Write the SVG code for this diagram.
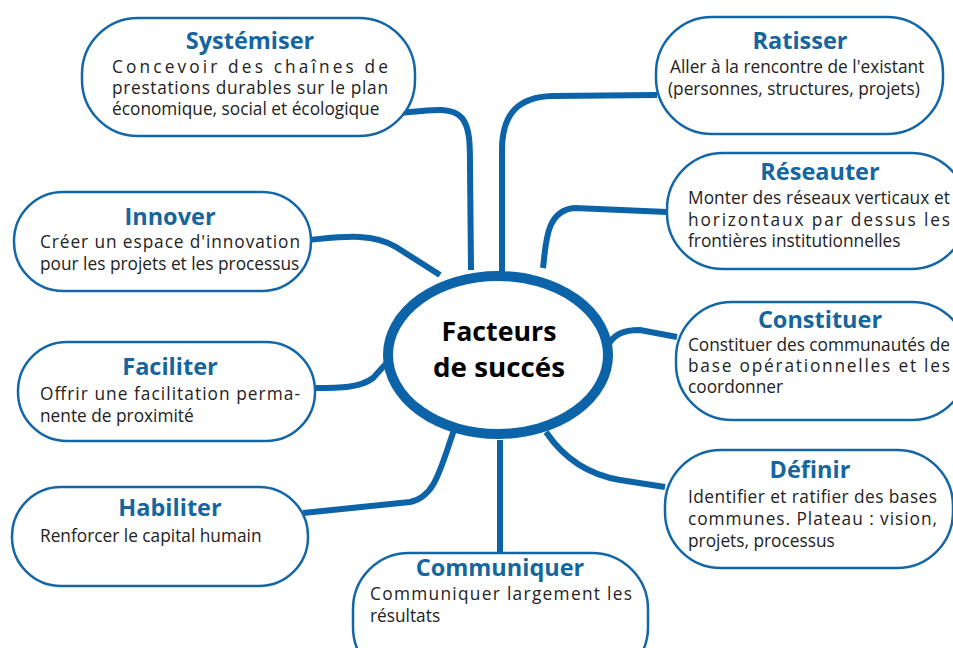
<svg xmlns="http://www.w3.org/2000/svg" width="953" height="648" viewBox="0 0 953 648">
<style>
.box{fill:#fff;stroke:#1467a7;stroke-width:2.5}
.t{font-family:"Open Sans","Noto Sans",sans-serif;font-weight:bold;font-size:23.5px;fill:#15659f;text-anchor:middle}
.b{font-family:"Open Sans","Noto Sans",sans-serif;font-size:17.3px;fill:#222}
.c{fill:none;stroke:#0c63a8;stroke-width:6;stroke-linecap:butt}
.ct{font-family:"Open Sans","Noto Sans",sans-serif;font-weight:bold;font-size:27px;fill:#000;text-anchor:middle}
</style>
<rect width="953" height="648" fill="#fff"/>
<g id="connectors">
<path class="c" d="M400,113 C430,110 452,106 462,118 C470,128 470,145 470,165 L471,270"/>
<path class="c" d="M502,272 L502,150 C502,112 520,97 552,96 L657,95"/>
<path class="c" d="M543,268 C546,245 545,210 575,208 L667,212"/>
<path class="c" d="M308,240 C340,237 372,232 396,247 L440,275"/>
<path class="c" d="M313,388 C340,388 360,388 373,378 L393,356"/>
<path class="c" d="M608,345 C614,335 622,330 640,330 L677,337"/>
<path class="c" d="M546,432 C565,460 590,475 620,480 L665,487"/>
<path class="c" d="M500,440 L500,553"/>
<path class="c" d="M454,430 C440,470 435,497 410,502 L303,513"/>
</g>
<g id="center">
<ellipse cx="498" cy="355" rx="110" ry="79" fill="#fff" stroke="#0c63a8" stroke-width="10"/>
<text class="ct" x="499" y="341" textLength="115" lengthAdjust="spacingAndGlyphs">Facteurs</text>
<text class="ct" x="499" y="377" textLength="132" lengthAdjust="spacingAndGlyphs">de succés</text>
</g>
<g id="systemiser">
<rect class="box" x="82" y="18" width="333" height="118" rx="56" ry="56"/>
<text class="t" x="250" y="49">Systémiser</text>
<text class="b" x="112" y="73" textLength="276" lengthAdjust="spacing">Concevoir des chaînes de</text>
<text class="b" x="112" y="94" textLength="276" lengthAdjust="spacing">prestations durables sur le plan</text>
<text class="b" x="112" y="115">économique, social et écologique</text>
</g>
<g id="ratisser">
<rect class="box" x="656" y="17" width="287" height="117" rx="56" ry="56"/>
<text class="t" x="800" y="49">Ratisser</text>
<text class="b" x="670" y="73">Aller à la rencontre de l'existant</text>
<text class="b" x="668" y="95">(personnes, structures, projets)</text>
</g>
<g id="innover">
<rect class="box" x="14" y="192" width="297" height="99" rx="49" ry="49"/>
<text class="t" x="170" y="225">Innover</text>
<text class="b" x="40" y="248" textLength="260" lengthAdjust="spacing">Créer un espace d'innovation</text>
<text class="b" x="40" y="270">pour les projets et les processus</text>
</g>
<g id="reseauter">
<rect class="box" x="667" y="153" width="300" height="116" rx="56" ry="56"/>
<text class="t" x="820" y="180">Réseauter</text>
<text class="b" x="688" y="204" textLength="262" lengthAdjust="spacing">Monter des réseaux verticaux et</text>
<text class="b" x="688" y="226" textLength="262" lengthAdjust="spacing">horizontaux par dessus les</text>
<text class="b" x="688" y="247">frontières institutionnelles</text>
</g>
<g id="constituer">
<rect class="box" x="676" y="302" width="292" height="118" rx="56" ry="56"/>
<text class="t" x="820" y="328">Constituer</text>
<text class="b" x="688" y="351" textLength="262" lengthAdjust="spacing">Constituer des communautés de</text>
<text class="b" x="688" y="372" textLength="262" lengthAdjust="spacing">base opérationnelles et les</text>
<text class="b" x="688" y="393">coordonner</text>
</g>
<g id="faciliter">
<rect class="box" x="18" y="342" width="297" height="99" rx="49" ry="49"/>
<text class="t" x="170" y="375">Faciliter</text>
<text class="b" x="40" y="400" textLength="260" lengthAdjust="spacing">Offrir une facilitation perma-</text>
<text class="b" x="40" y="422">nente de proximité</text>
</g>
<g id="definir">
<rect class="box" x="665" y="450" width="288" height="118" rx="56" ry="56"/>
<text class="t" x="810" y="478">Définir</text>
<text class="b" x="688" y="503" textLength="249" lengthAdjust="spacing">Identifier et ratifier des bases</text>
<text class="b" x="688" y="525" textLength="249" lengthAdjust="spacing">communes. Plateau : vision,</text>
<text class="b" x="688" y="547">projets, processus</text>
</g>
<g id="habiliter">
<rect class="box" x="12" y="487" width="296" height="99" rx="49" ry="49"/>
<text class="t" x="170" y="516">Habiliter</text>
<text class="b" x="40" y="542">Renforcer le capital humain</text>
</g>
<g id="communiquer">
<rect class="box" x="353" y="553" width="295" height="130" rx="56" ry="56"/>
<text class="t" x="500" y="576">Communiquer</text>
<text class="b" x="370" y="600" textLength="262" lengthAdjust="spacing">Communiquer largement les</text>
<text class="b" x="370" y="622">résultats</text>
</g>
</svg>
